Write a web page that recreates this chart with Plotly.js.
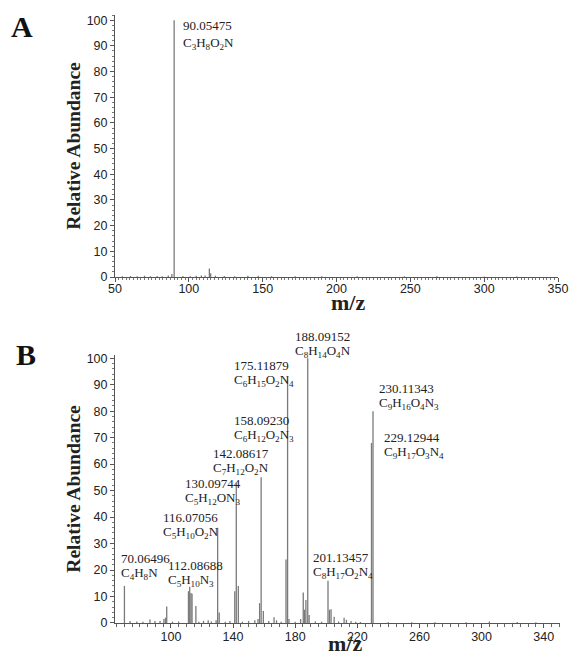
<!DOCTYPE html>
<html><head><meta charset="utf-8">
<script src="https://cdn.plot.ly/plotly-3.0.1.min.js"></script>
<style>html,body{margin:0;padding:0;background:#fff}#chart{width:569px;height:658px}</style>
</head><body><div id="chart"></div>
<script>
// ---------- Panel A spectrum (m/z, relative abundance) ----------
const mzA  = [55, 60.5, 65, 70, 74, 78.5, 82, 86.1, 88.5, 90.05475, 96, 101, 105, 108.5, 111, 113.9, 114.8, 118, 124, 131, 140, 147, 156, 172, 190, 214, 246, 268, 300, 322];
const intA = [0.3, 0.4, 0.3, 0.5, 0.3, 0.4, 0.3, 0.6, 1.2, 100, 0.4, 0.3, 0.5, 0.6, 0.6, 3.3, 1.5, 0.5, 0.4, 0.3, 0.5, 0.5, 0.3, 0.3, 0.3, 0.3, 0.3, 0.3, 0.2, 0.2];

// ---------- Panel B spectrum ----------
const mzB  = [70.06496, 73.7, 78, 82, 86.5, 89.7, 93, 95.5, 96.5, 97.3, 101, 105, 111.3, 112.08688, 112.9, 113.6, 116.07056, 118, 121, 124, 126, 129.1, 130.09744, 131.1, 135, 138, 141.1, 142.08617, 143.4, 146, 150, 154, 156.1, 157.1, 158.0923, 159.5, 163, 166.4, 168, 171, 174.1, 175.11879, 176, 180, 183.5, 185.2, 186.1, 186.9, 188.09152, 189, 193, 197, 201.13457, 202.1, 203.1, 205.1, 208, 211.5, 213, 216, 219, 222, 229.12944, 230.11343, 240, 255, 270, 290, 305, 323, 335];
const intB = [14, 0.8, 0.6, 0.5, 1.3, 0.8, 0.8, 1.5, 2, 6.2, 0.5, 0.6, 12, 13.7, 11.3, 11, 6.4, 0.5, 0.8, 1, 0.6, 1, 36, 4, 0.5, 0.8, 12, 53, 14, 0.5, 0.8, 1, 1.5, 7.5, 55, 4.5, 0.8, 2.2, 1, 0.5, 24, 93, 1.5, 0.5, 1.5, 11.5, 5, 8.7, 100, 3, 0.6, 0.5, 16, 5, 5.2, 2.4, 0.6, 2, 1.2, 0.8, 0.5, 0.4, 68, 80, 0.3, 0.3, 0.3, 0.3, 0.6, 0.4, 0.3];

// ---------- Labelled ions ----------
const ionMzA   = [90.05475];
const ionIntA  = [100];
const ionMassA = ['90.05475'];
const ionFormA = ['C<sub>3</sub>H<sub>8</sub>O<sub>2</sub>N'];

const ionMzB   = [70.06496, 112.08688, 116.07056, 130.09744, 142.08617, 158.0923, 175.11879, 188.09152, 201.13457, 229.12944, 230.11343];
const ionIntB  = [14, 13.7, 6.4, 36, 53, 55, 93, 100, 16, 68, 80];
const ionMassB = ['70.06496', '112.08688', '116.07056', '130.09744', '142.08617', '158.09230', '175.11879', '188.09152', '201.13457', '229.12944', '230.11343'];
const ionFormB = [
  'C<sub>4</sub>H<sub>8</sub>N',
  'C<sub>5</sub>H<sub>10</sub>N<sub>3</sub>',
  'C<sub>5</sub>H<sub>10</sub>O<sub>2</sub>N',
  'C<sub>5</sub>H<sub>12</sub>ON<sub>3</sub>',
  'C<sub>7</sub>H<sub>12</sub>O<sub>2</sub>N',
  'C<sub>6</sub>H<sub>12</sub>O<sub>2</sub>N<sub>3</sub>',
  'C<sub>6</sub>H<sub>15</sub>O<sub>2</sub>N<sub>4</sub>',
  'C<sub>8</sub>H<sub>14</sub>O<sub>4</sub>N',
  'C<sub>8</sub>H<sub>17</sub>O<sub>2</sub>N<sub>4</sub>',
  'C<sub>9</sub>H<sub>17</sub>O<sub>3</sub>N<sub>4</sub>',
  'C<sub>9</sub>H<sub>16</sub>O<sub>4</sub>N<sub>3</sub>'
];

// label placement (pixel offsets from each peak top) - layout only
const placeA = [[6.8, -4.9]];
const placeB = [[-5.4, 27.9], [-23.7, 21.3], [-34.9, 88.1], [-34.7, 43.7], [-25.3, 28.7], [-29.1, 56.4], [-55.6, 11.7], [-14.7, 21.2], [-17, 23.6], [10.5, 5.9], [4, 22.2]];

function sticks(mz, ints) {
  const x = [], y = [];
  mz.forEach((m, i) => { x.push(m, m, null); y.push(0, ints[i], null); });
  return {x, y};
}
const sA = sticks(mzA, intA), sB = sticks(mzB, intB);

const ionFont = {family: 'Liberation Serif, Times New Roman, serif', size: 13, color: '#222'};
function ionAnnots(xr, yr, mz, ints, mass, form, place, gap) {
  const out = [];
  mz.forEach((m, i) => {
    const [dx, dy] = place[i];
    out.push({xref: xr, yref: yr, x: m, y: ints[i], text: mass[i], showarrow: false, xanchor: 'left', yanchor: 'middle', xshift: dx, yshift: dy, font: ionFont});
    out.push({xref: xr, yref: yr, x: m, y: ints[i], text: form[i], showarrow: false, xanchor: 'left', yanchor: 'middle', xshift: dx, yshift: dy - gap, font: ionFont});
  });
  return out;
}

const stickLine = {color: '#7a7a7a', width: 1.3};
const traces = [
  {type: 'scatter', mode: 'lines', x: sA.x, y: sA.y, xaxis: 'x', yaxis: 'y', line: stickLine, hoverinfo: 'skip', connectgaps: false},
  {type: 'scatter', mode: 'lines', x: sB.x, y: sB.y, xaxis: 'x2', yaxis: 'y2', line: stickLine, hoverinfo: 'skip', connectgaps: false}
];

const serif = 'Liberation Serif, Times New Roman, serif';
const titleFont = {family: serif, size: 19.5, color: '#222'};
const mzFont = {family: serif, size: 22, color: '#222'};
const baseAx = {
  showline: true, linecolor: '#555', linewidth: 1, showgrid: false, zeroline: false,
  ticks: 'outside', ticklen: 4, tickcolor: '#555', automargin: false,
  tickfont: {family: 'Liberation Sans Narrow, Liberation Sans, Arial, sans-serif', size: 12.5, color: '#222'}
};

const layout = {
  width: 569, height: 658, margin: {l: 0, r: 0, t: 0, b: 0},
  paper_bgcolor: '#fff', plot_bgcolor: 'rgba(0,0,0,0)', showlegend: false,
  xaxis: Object.assign({}, baseAx, {
    domain: [0.20211, 0.98067], range: [50, 350], anchor: 'y', tick0: 50, dtick: 50,
    ticklabelstandoff: -4,
    minor: {dtick: 2.5, ticklen: 2, ticks: 'outside', tickcolor: '#777'}
  }),
  yaxis: Object.assign({}, baseAx, {
    domain: [0.57903, 0.97720], range: [0, 102], anchor: 'x', tick0: 0, dtick: 10,
    minor: {dtick: 2, ticklen: 2, ticks: 'outside', tickcolor: '#777'},
    title: {text: '<b>Relative Abundance</b>', font: titleFont, standoff: 0}
  }),
  xaxis2: Object.assign({}, baseAx, {
    domain: [0.20211, 0.98418], range: [64, 350.5], anchor: 'y2', tick0: 20, dtick: 40,
    ticklabelstandoff: -2,
    minor: {dtick: 5, ticklen: 3, ticks: 'outside', tickcolor: '#666'}
  }),
  yaxis2: Object.assign({}, baseAx, {
    domain: [0.05319, 0.46049], range: [0, 101.2], anchor: 'x2', tick0: 0, dtick: 10,
    minor: {dtick: 2, ticklen: 2, ticks: 'outside', tickcolor: '#777'},
    title: {text: '<b>Relative Abundance</b>', font: titleFont, standoff: 0}
  }),
  annotations: [
    {xref: 'paper', yref: 'paper', x: 0.0387, y: 0.959, text: '<b>A</b>', showarrow: false, xanchor: 'center', yanchor: 'middle', font: {family: serif, size: 30, color: '#111'}},
    {xref: 'paper', yref: 'paper', x: 0.0457, y: 0.4605, text: '<b>B</b>', showarrow: false, xanchor: 'center', yanchor: 'middle', font: {family: serif, size: 30, color: '#111'}},
    {xref: 'paper', yref: 'paper', x: 0.6116, y: 0.5396, text: '<b>m/z</b>', showarrow: false, xanchor: 'center', yanchor: 'middle', font: mzFont},
    {xref: 'paper', yref: 'paper', x: 0.6063, y: 0, text: '<b>m/z</b>', showarrow: false, xanchor: 'center', yanchor: 'bottom', font: mzFont}
  ].concat(
    ionAnnots('x', 'y', ionMzA, ionIntA, ionMassA, ionFormA, placeA, 18),
    ionAnnots('x2', 'y2', ionMzB, ionIntB, ionMassB, ionFormB, placeB, 15)
  )
};

Plotly.newPlot('chart', traces, layout, {staticPlot: true, displayModeBar: false});
</script>
</body></html>
